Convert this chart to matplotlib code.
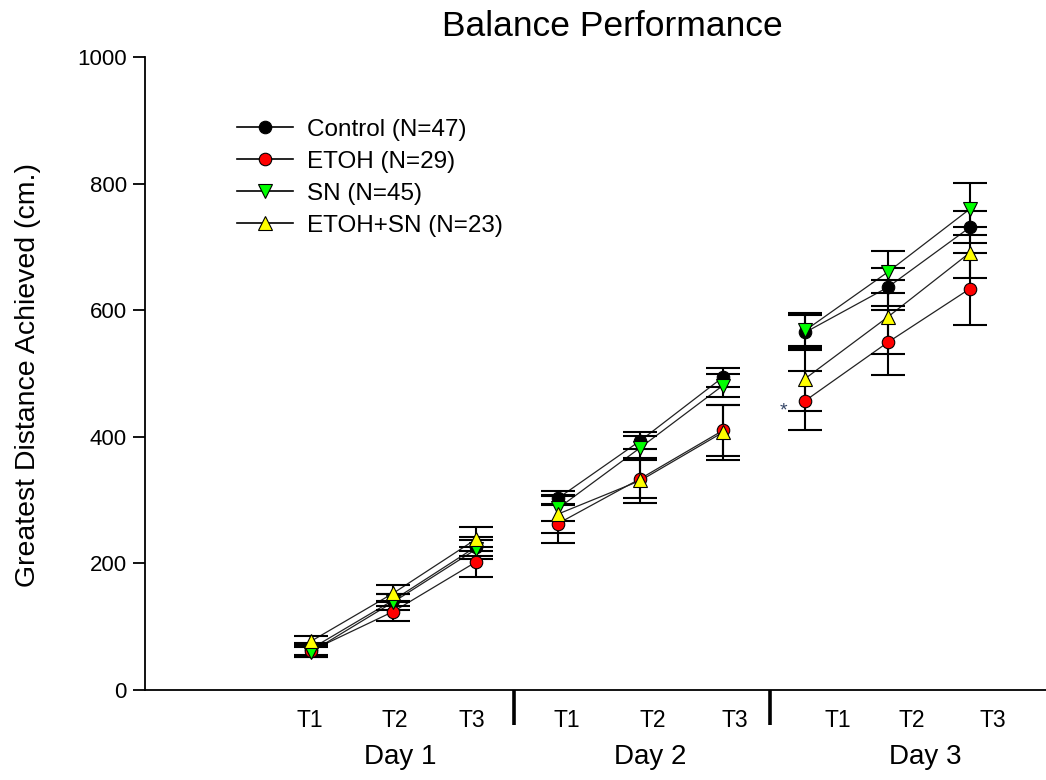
import matplotlib
matplotlib.use("Agg")
import matplotlib.pyplot as plt
import matplotlib.transforms as mtransforms
from matplotlib import font_manager

# ---- data ----
trials = ["T1", "T2", "T3"]
days = ["Day 1", "Day 2", "Day 3"]
x_pos = [1, 2, 3, 4, 5, 6, 7, 8, 9]

control = [65, 142, 226, 303, 394, 494, 565, 636, 731]
control_err = [10, 10, 15, 11, 14, 15, 28, 30, 25]
etoh = [62, 124, 202, 263, 334, 410, 457, 549, 634]
etoh_err = [10, 15, 24, 31, 30, 40, 47, 52, 57]
sn = [60, 139, 222, 287, 383, 481, 568, 660, 760]
sn_err = [8, 12, 15, 20, 18, 18, 28, 33, 41]
etoh_sn = [77, 153, 238, 278, 331, 407, 492, 589, 691]
etoh_sn_err = [8, 13, 19, 30, 36, 43, 52, 58, 40]

labels = ["Control (N=47)", "ETOH (N=29)", "SN (N=45)", "ETOH+SN (N=23)"]

# ---- layout ----
names = set(f.name for f in font_manager.fontManager.ttflist)
base_font = "Liberation Sans" if "Liberation Sans" in names else "DejaVu Sans"
narrow_font = "Liberation Sans Narrow" if "Liberation Sans Narrow" in names else base_font
plt.rcParams["font.family"] = [base_font, "DejaVu Sans"]

W, H = 1046, 780
fig = plt.figure(figsize=(W / 100, H / 100), dpi=100)
L, R, B, T = 145, 1046, 690, 57
ax = fig.add_axes([L / W, 1 - B / H, (R - L) / W, (B - T) / H])

px0, pxu = 228.6, 82.375  # pixel of x=0 and px per unit
def px2x(p):
    return (p - px0) / pxu

ax.set_xlim(px2x(L), px2x(R))
ax.set_ylim(0, 1000)

series = [
    (control, control_err, "o", "black", 9),
    (etoh, etoh_err, "o", "#ff0000", 9),
    (sn, sn_err, "v", "#00ff00", 10.5),
    (etoh_sn, etoh_sn_err, "^", "#ffff00", 10.5),
]

handles = []
for (vals, errs, mk, col, ms), lab in zip(series, labels):
    for d in range(3):
        sl = slice(3 * d, 3 * d + 3)
        ax.plot(x_pos[sl], vals[sl], color="#222222", lw=0.9, zorder=2)
    ax.errorbar(x_pos, vals, yerr=errs, fmt="none", ecolor="black",
                elinewidth=1.5, capsize=12, capthick=1.5, zorder=3)
    ax.plot(x_pos, vals, ls="none", marker=mk, ms=ms, mfc=col, mec="black",
            mew=0.8, zorder=4)
    h, = ax.plot([], [], color="black", lw=1.2, marker=mk, ms=ms, mfc=col,
                 mec="black", mew=0.8, label=lab)
    handles.append(h)

leg = ax.legend(handles=handles, loc="upper left",
                bbox_to_anchor=(227 / W, 1 - 109 / H), bbox_transform=fig.transFigure,
                frameon=False, fontsize=17.5, handlelength=2.3, handletextpad=0.6,
                labelspacing=0.41, borderaxespad=0)

# spines
for s in ["top", "right"]:
    ax.spines[s].set_visible(False)
ax.spines["left"].set_linewidth(1.3)
ax.spines["bottom"].set_linewidth(1.3)

ax.set_yticks([0, 200, 400, 600, 800, 1000])
ax.tick_params(axis="y", direction="out", length=9, width=1.3, labelsize=16, pad=4)

tick_px = [310, 395, 472, 567, 653, 735, 838, 912, 993]
ax.set_xticks([px2x(p) for p in tick_px])
ax.set_xticklabels(trials * 3, fontsize=16.5, family=[narrow_font, base_font])
ax.tick_params(axis="x", length=0, pad=14)

# day labels
trans = mtransforms.blended_transform_factory(ax.transData, fig.transFigure)
for lab, p in zip(days, [400, 650, 925]):
    ax.text(px2x(p), 1 - 757 / H, lab, transform=trans, ha="center", va="center",
            fontsize=20, family=[narrow_font, base_font])

# dividers
trans2 = mtransforms.blended_transform_factory(ax.transData, ax.transAxes)
for p in [514, 770]:
    ax.plot([px2x(p)] * 2, [0, -35 / (B - T)], transform=trans2, color="black",
            lw=2.6, clip_on=False, solid_capstyle="butt")

# significance marker
ax.text(px2x(783), 441, "*", ha="center", va="center", fontsize=14, color="#334466")

fig.text(28 / W, 1 - 375 / H, "Greatest Distance Achieved (cm.)", rotation=90,
         ha="center", va="center", fontsize=20.5)
fig.text(612 / W, 1 - 26 / H, "Balance Performance", ha="center", va="center", fontsize=25.5)

fig.savefig("out.png", dpi=100)
